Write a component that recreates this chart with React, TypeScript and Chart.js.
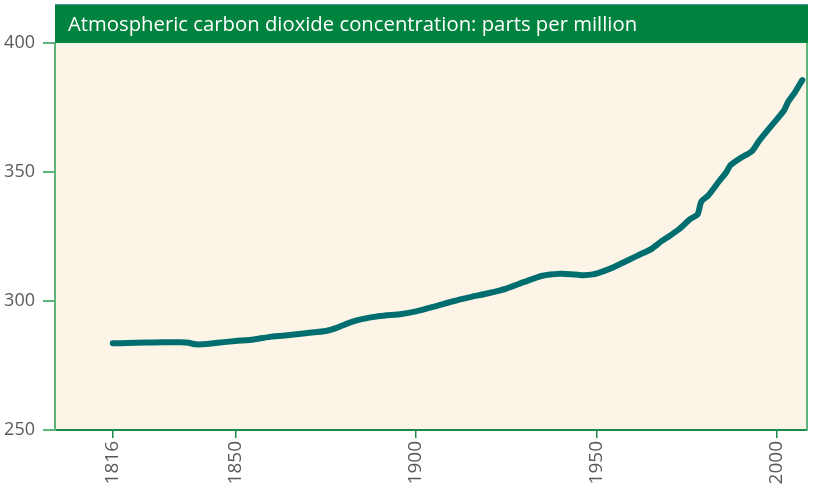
import React, { useEffect, useRef } from "react";
import { Chart, registerables } from "chart.js";

Chart.register(...registerables);

const TITLE = "Atmospheric carbon dioxide concentration: parts per million";

const years = [
  1816, 1820, 1825, 1830, 1835, 1837, 1839, 1842, 1845, 1850, 1855, 1860, 1865, 1870,
  1875, 1878, 1882, 1885, 1890, 1896, 1900, 1905, 1910, 1915, 1920, 1925, 1930, 1935,
  1940, 1943, 1946, 1949, 1952, 1955, 1959, 1962, 1965, 1968, 1970, 1973, 1976, 1978,
  1979, 1981, 1984, 1986, 1987, 1990, 1993, 1995, 1998, 2000, 2002, 2003, 2005, 2007,
];

const ppm = [
  283.6, 283.7, 283.9, 284.0, 284.0, 283.8, 283.2, 283.3, 283.8, 284.5, 285.1, 286.2, 286.8, 287.6,
  288.4, 289.6, 291.8, 293.0, 294.2, 295.0, 296.0, 297.8, 299.8, 301.5, 303.0, 304.8, 307.4, 309.8,
  310.6, 310.4, 310.0, 310.3, 311.6, 313.3, 316.0, 318.0, 320.0, 323.2, 325.0, 328.0, 331.8, 333.6,
  338.5, 341.0, 346.5, 350.0, 352.5, 355.5, 358.0, 362.0, 367.2, 370.5, 374.0, 377.0, 381.0, 385.6,
];

const xTicks = [1816, 1850, 1900, 1950, 2000];
const yTicks = [250, 300, 350, 400];

const chromePlugin = {
  id: "chrome",
  beforeDraw(chart: any) {
    const { ctx, chartArea: a } = chart;
    ctx.save();
    ctx.fillStyle = "#FBF4E7";
    ctx.fillRect(a.left, a.top, a.right - a.left, a.bottom - a.top);
    ctx.restore();
  },
  afterDraw(chart: any) {
    const { ctx, chartArea: a } = chart;
    ctx.save();
    // right border
    ctx.strokeStyle = "#5DB57C";
    ctx.lineWidth = 2;
    ctx.beginPath();
    ctx.moveTo(a.right, a.top);
    ctx.lineTo(a.right, a.bottom);
    ctx.stroke();
    // title bar
    ctx.fillStyle = "#00833E";
    ctx.fillRect(a.left, 4, a.right + 1 - a.left, a.top - 4);
    ctx.fillStyle = "#4F8FA8";
    ctx.fillRect(a.left, 4, a.right + 1 - a.left, 1);
    ctx.fillStyle = "#FFFFFF";
    ctx.font = "20.3px 'Open Sans', sans-serif";
    ctx.textBaseline = "alphabetic";
    ctx.textAlign = "left";
    ctx.fillText(TITLE, a.left + 13, 31);
    ctx.restore();
  },
};

export default function App() {
  const ref = useRef<HTMLCanvasElement | null>(null);
  useEffect(() => {
    if (!ref.current) return;
    const chart = new Chart(ref.current, {
      type: "line",
      data: {
        datasets: [
          {
            data: years.map((y, i) => ({ x: y, y: ppm[i] })),
            borderColor: "#006E6E",
            borderWidth: 6,
            pointRadius: 0,
            tension: 0.2,
            borderCapStyle: "round",
            borderJoinStyle: "round",
            fill: false,
          },
        ],
      },
      options: {
        responsive: false,
        animation: false,
        layout: { padding: { top: 43, right: 6, left: 0, bottom: 0 } },
        plugins: { legend: { display: false }, tooltip: { enabled: false }, title: { display: false } },
        scales: {
          x: {
            type: "linear",
            min: 1800,
            max: 2008.3,
            afterBuildTicks: (s: any) => {
              s.ticks = xTicks.map((v) => ({ value: v }));
            },
            afterFit: (s: any) => {
              s.height = 56;
            },
            ticks: {
              minRotation: 90,
              maxRotation: 90,
              autoSkip: false,
              padding: 3,
              color: "#5a5a5a",
              font: { family: "'Open Sans', sans-serif", size: 19 },
              callback: (v: any) => String(v),
            },
            grid: { drawOnChartArea: false, color: "#1E8A48", tickLength: 8, lineWidth: 1.5 },
            border: { color: "#1E8A48", width: 2 },
          },
          y: {
            min: 250,
            max: 400,
            afterBuildTicks: (s: any) => {
              s.ticks = yTicks.map((v) => ({ value: v }));
            },
            afterFit: (s: any) => {
              s.width = 55;
            },
            ticks: {
              padding: 8,
              color: "#5a5a5a",
              font: { family: "'Open Sans', sans-serif", size: 18 },
              callback: (v: any) => String(v),
            },
            grid: { drawOnChartArea: false, color: "#5DB57C", tickLength: 12, lineWidth: 2 },
            border: { color: "#5DB57C", width: 2 },
          },
        },
      },
      plugins: [chromePlugin],
    });
    return () => chart.destroy();
  }, []);
  return (
    <div style={{ position: "fixed", left: 0, top: 0, width: 813, height: 486, background: "#fff" }}>
      <canvas ref={ref} width={813} height={486} style={{ display: "block" }} />
    </div>
  );
}
